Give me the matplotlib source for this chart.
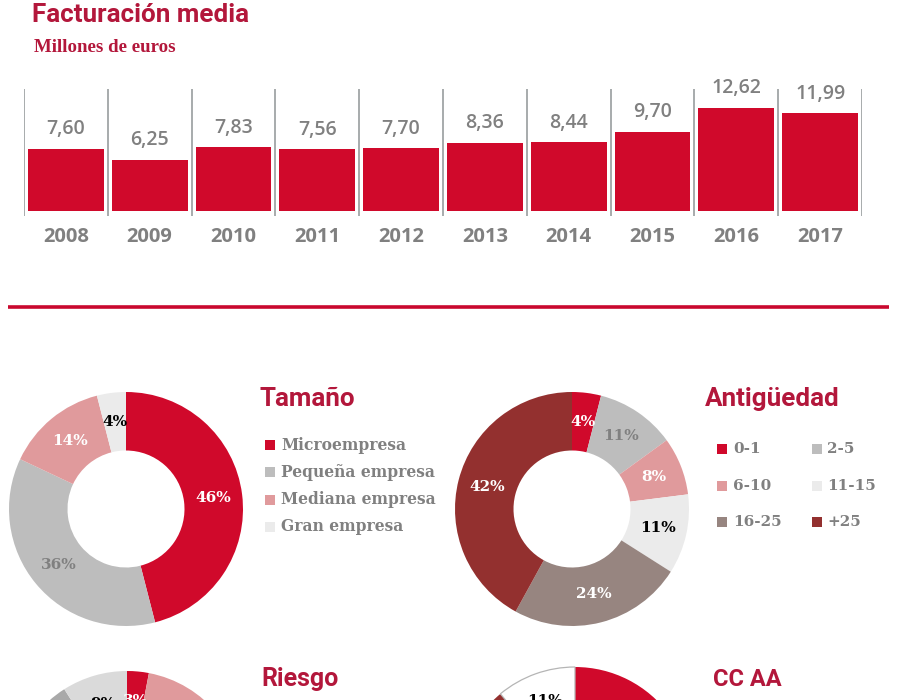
#!/usr/bin/env python3
"""Facturacion media: bar chart plus four donut panels, clipped at the bottom."""

import matplotlib

matplotlib.use("Agg")
import matplotlib.pyplot as plt
import numpy as np
from matplotlib.patches import Rectangle

years = ["2008", "2009", "2010", "2011", "2012", "2013", "2014", "2015", "2016", "2017"]
revenue = [7.60, 6.25, 7.83, 7.56, 7.70, 8.36, 8.44, 9.70, 12.62, 11.99]

size_labels = ["Microempresa", "Pequeña empresa", "Mediana empresa", "Gran empresa"]
size_values = [46, 36, 14, 4]

age_labels = ["0-1", "2-5", "6-10", "11-15", "16-25", "+25"]
age_values = [4, 11, 8, 11, 24, 42]

# only the top of these two is visible, the hidden slices are estimates
risk_values = [3, 45, 43, 9]
region_values = [60, 29, 11]

RED = "#D0092B"
GREY = "#BDBDBD"
PINK = "#E09A9C"
LIGHT = "#EBEBEB"
TAUPE = "#978580"
BROWN = "#93302F"
TITLE = "#B3173B"
TEXT = "#808080"

W, H = 900, 700
SERIF = "DejaVu Serif"
SANS = "Open Sans"

plt.rcParams["font.family"] = [SANS, "DejaVu Sans"]

fig = plt.figure(figsize=(W / 100, H / 100), dpi=100)

# overlay in pixel coordinates for titles and legends
page = fig.add_axes([0, 0, 1, 1])
page.set_xlim(0, W)
page.set_ylim(H, 0)
page.axis("off")


def px_axes(left, top, right, bottom):
    return fig.add_axes([left / W, 1 - bottom / H, (right - left) / W, (bottom - top) / H])


def donut(cx, cy, values, colors, labels, text_colors, radius=117):
    ax = px_axes(cx - radius, cy - radius, cx + radius, cy + radius)
    wedges, _ = ax.pie(
        values,
        colors=colors,
        startangle=90,
        counterclock=False,
        radius=1,
        wedgeprops={"width": 0.5, "linewidth": 0},
    )
    ax.set_xlim(-1, 1)
    ax.set_ylim(-1, 1)
    for wedge, label, color in zip(wedges, labels, text_colors):
        angle = np.deg2rad((wedge.theta1 + wedge.theta2) / 2)
        ax.text(
            0.75 * np.cos(angle),
            0.75 * np.sin(angle),
            label,
            color=color,
            ha="center",
            va="center",
            fontsize=11,
            fontweight="bold",
            family=SERIF,
            clip_on=False,
        )
    return wedges


# bars
ax = px_axes(24, 89, 862, 216)
x = np.arange(len(years))
ax.bar(x, revenue, width=0.905, color=RED)
ax.set_xlim(-0.5, 9.5)
ax.set_ylim(-5 / 8.16, 122 / 8.16)
for edge in np.arange(-0.5, 10):
    ax.axvline(edge, color="#8f9496", lw=1.1, zorder=0)
for xi, val in zip(x, revenue):
    ax.text(
        xi,
        val + 2.4,
        f"{val:.2f}".replace(".", ","),
        ha="center",
        va="center",
        color=TEXT,
        fontsize=14,
        fontweight="semibold",
    )
    ax.text(
        xi,
        -3.2,
        years[xi],
        ha="center",
        va="center",
        color=TEXT,
        fontsize=14.5,
        fontweight="bold",
    )
ax.axis("off")

page.text(32, 15, "Facturación media", color=TITLE, fontsize=18.7, fontweight="bold",
          va="center", family="Roboto")
page.text(34, 47, "Millones de euros", color=TITLE, fontsize=13.6, fontweight="bold",
          va="center", family="Liberation Serif")
page.plot([8, 889], [307, 307], color="#C9082E", lw=2.6, solid_capstyle="butt")

# donuts
size_colors = [RED, GREY, PINK, LIGHT]
donut(126, 509, size_values, size_colors, [f"{v}%" for v in size_values],
      ["white", TEXT, "white", "black"])

age_colors = [RED, GREY, PINK, LIGHT, TAUPE, BROWN]
donut(572, 509, age_values, age_colors, [f"{v}%" for v in age_values],
      ["white", TEXT, "white", "black", "white", "white"])

donut(127, 788, risk_values, [RED, PINK, "#A9A9A9", "#DADADA"],
      ["3%", "", "", "9%"], ["white", "white", "white", "black"])

region_wedges = donut(575, 784, region_values, [RED, BROWN, "white"],
                      ["", "", "11%"], ["white", "white", "black"])
region_wedges[2].set_edgecolor("#b5b5b5")
region_wedges[2].set_linewidth(0.9)

# panel titles
for tx, ty, title, fsize in [(260, 399, "Tamaño", 18.7), (705, 399, "Antigüedad", 18.7),
                             (261, 679, "Riesgo", 18), (713, 679, "CC AA", 17)]:
    page.text(tx, ty, title, color=TITLE, fontsize=fsize, fontweight="bold",
              va="center", family="Roboto")

# legends
for i, (label, color) in enumerate(zip(size_labels, size_colors)):
    ly = 445 + i * 27.3
    page.add_patch(Rectangle((265, ly - 5), 10, 10, color=color, lw=0))
    page.text(281, ly, label, color=TEXT, fontsize=11.2, fontweight="bold", va="center", family=SERIF)

for i, (label, color) in enumerate(zip(age_labels, age_colors)):
    col, row = i % 2, i // 2
    ly = 449 + row * 36.5
    page.add_patch(Rectangle((717 + col * 95, ly - 5), 10, 10, color=color, lw=0))
    page.text(733 + col * 94, ly, label, color=TEXT, fontsize=11, fontweight="bold",
              va="center", family=SERIF)

fig.savefig("out.png", dpi=100)
